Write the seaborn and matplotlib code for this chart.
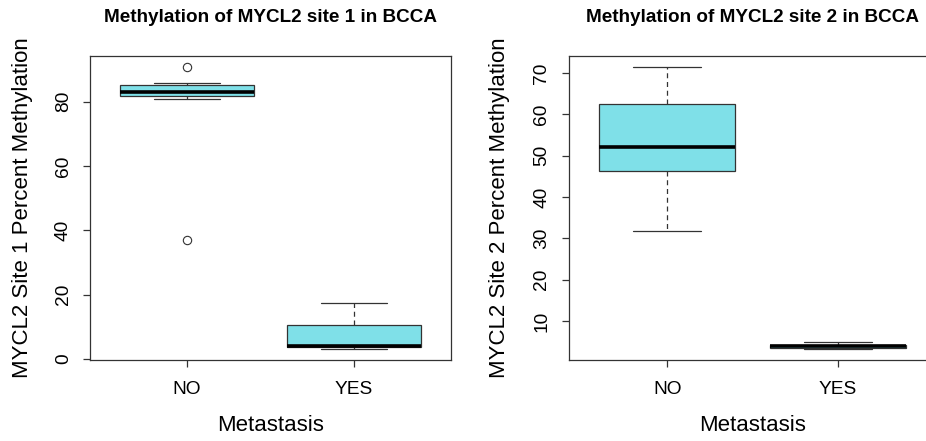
import numpy as np
import pandas as pd
import matplotlib
matplotlib.use("Agg")
import matplotlib.pyplot as plt
import seaborn as sns

# ---- data ----
groups = ["NO", "YES"]
site1_no = [36.9, 80.8, 81.9, 82.5, 83.1, 84.0, 85.2, 85.8, 90.7]
site1_yes = [3.2, 3.6, 3.9, 10.7, 17.3]
site2_no = [31.9, 46.3, 52.2, 62.5, 71.4]
site2_yes = [3.3, 3.5, 3.9, 4.3, 4.9]

titles = ["Methylation of MYCL2 site 1 in BCCA", "Methylation of MYCL2 site 2 in BCCA"]
ylabels = ["MYCL2 Site 1 Percent Methylation", "MYCL2 Site 2 Percent Methylation"]
xlabel = "Metastasis"
yticks_site1 = [0, 20, 40, 60, 80]
yticks_site2 = [10, 20, 30, 40, 50, 60, 70]

sns.set_style("white")
plt.rcParams["font.family"] = ["Liberation Sans", "DejaVu Sans"]
plt.rcParams["text.color"] = "black"
plt.rcParams["axes.labelcolor"] = "black"
plt.rcParams["xtick.color"] = "black"
plt.rcParams["ytick.color"] = "black"

box_color = "#7FE0E8"
line_color = "#333333"

fig = plt.figure(figsize=(9.26, 4.41), dpi=100)
W, H = 926, 441
def axrect(x0, x1, ytop, ybot):
    return [x0 / W, (H - ybot) / H, (x1 - x0) / W, (ybot - ytop) / H]

ax1 = fig.add_axes(axrect(90, 451, 56, 360))
ax2 = fig.add_axes(axrect(568.5, 936.5, 56, 360))

panels = [
    (ax1, site1_no, site1_yes, titles[0], ylabels[0], yticks_site1),
    (ax2, site2_no, site2_yes, titles[1], ylabels[1], yticks_site2),
]

for ax, no_vals, yes_vals, title, ylab, yticks in panels:
    df = pd.DataFrame({
        "Metastasis": [groups[0]] * len(no_vals) + [groups[1]] * len(yes_vals),
        "value": list(no_vals) + list(yes_vals),
    })
    sns.boxplot(
        data=df, x="Metastasis", y="value", order=groups, ax=ax,
        color=box_color, saturation=1, width=0.8, linecolor=line_color,
        linewidth=0.9, whis=1.5,
        whiskerprops=dict(linestyle=(0, (4, 3)), linewidth=0.9, color=line_color),
        capprops=dict(linewidth=0.9, color=line_color),
        medianprops=dict(linewidth=2.6, color="black", solid_capstyle="butt"),
        flierprops=dict(marker="o", markerfacecolor="none", markeredgecolor=line_color,
                        markersize=6, markeredgewidth=0.8),
    )
    allv = np.array(list(no_vals) + list(yes_vals))
    lo, hi = allv.min(), allv.max()
    pad = 0.04 * (hi - lo)
    ax.set_ylim(lo - pad, hi + pad)
    ax.set_xlim(-0.58, 1.58)
    ax.set_yticks(yticks)
    ax.set_yticklabels([str(t) for t in yticks], rotation=90, va="center")
    ax.tick_params(axis="both", direction="out", length=5, width=0.9, color=line_color,
                   labelcolor="black", labelsize=13.8, pad=8, left=True, bottom=True)
    ax.tick_params(axis="x", pad=10)
    for s in ax.spines.values():
        s.set_visible(True)
        s.set_color(line_color)
        s.set_linewidth(0.9)
    ax.set_title(title, fontsize=13.6, fontweight="bold", y=1 + (56 - 18) / 304,
                 va="center", pad=0, color="black")
    ax.set_xlabel(xlabel, fontsize=16)
    ax.set_ylabel(ylab, fontsize=16)
    ax.xaxis.set_label_coords(0.5, -65.7 / 304)
    ax.xaxis.label.set_verticalalignment("center")
    ax.yaxis.set_label_coords(-67.5 / 361, 0.5)
    ax.yaxis.label.set_verticalalignment("center")

fig.savefig("out.png", dpi=100)
